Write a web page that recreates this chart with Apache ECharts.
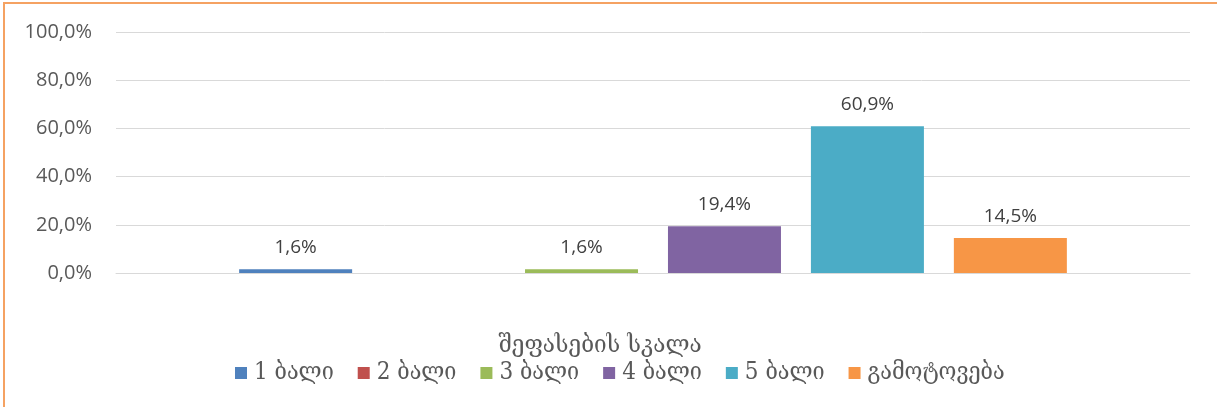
<!DOCTYPE html>
<html>
<head>
<meta charset="utf-8">
<script src="https://cdn.jsdelivr.net/npm/echarts@6/dist/echarts.min.js"></script>
<style>
  html, body { margin: 0; padding: 0; background: #fff; }
  #chart { position: absolute; left: 0; top: 0; width: 1217px; height: 407px; }
  #frame {
    position: absolute; left: 3px; top: 2px; width: 1214px; height: 403px;
    border-top: 2px solid #f5a262; border-left: 2px solid #f5a262;
    border-bottom: 2px solid #fbc895; pointer-events: none;
  }
</style>
</head>
<body>
<div id="chart"></div>
<div id="frame"></div>
<script>
// data
var categories = ['შეფასების სკალა'];
var seriesNames = ['1 ბალი', '2 ბალი', '3 ბალი', '4 ბალი', '5 ბალი', 'გამოტოვება'];
var seriesValues = [1.6, null, 1.6, 19.4, 60.9, 14.5];
var yTicks = [0, 20, 40, 60, 80, 100];

var colors = ['#4f81bd', '#c0504d', '#9bbb59', '#8064a2', '#4bacc6', '#f79646'];
var numFont = '"Open Sans", "Liberation Sans", sans-serif';
var geoFont = '"DejaVu Serif Condensed", "DejaVu Serif", "DejaVu Sans", serif';

function pct (v) {
  return v.toFixed(1).replace('.', ',') + '%';
}

var myChart = echarts.init(document.getElementById('chart'));

var series = seriesNames.map(function (name, i) {
  return {
    name: name,
    type: 'bar',
    barWidth: 113,
    barGap: '26.5%',
    itemStyle: { color: colors[i] },
    label: {
      show: seriesValues[i] !== null,
      position: 'top',
      distance: 12,
      color: '#404040',
      fontSize: 19,
      fontFamily: numFont,
      formatter: function (p) {
        return pct(p.value);
      }
    },
    data: [seriesValues[i] === null ? '-' : seriesValues[i]]
  };
});

myChart.setOption({
  animation: false,
  color: colors,
  title: {
    text: categories[0],
    left: 595,
    top: 328,
    textAlign: 'center',
    textStyle: {
      color: '#595959',
      fontSize: 25,
      fontWeight: 'normal',
      fontFamily: geoFont
    }
  },
  legend: {
    left: 230,
    top: 356,
    itemWidth: 12,
    itemHeight: 12,
    itemGap: 24,
    icon: 'rect',
    textStyle: {
      color: '#595959',
      fontSize: 24,
      fontFamily: geoFont,
      padding: [0, 0, 0, 2]
    },
    data: seriesNames
  },
  grid: {
    left: 116,
    right: 27,
    top: 32,
    bottom: 134
  },
  xAxis: {
    type: 'category',
    data: categories,
    axisLine: { lineStyle: { color: '#d9d9d9', width: 1 } },
    axisTick: { show: false },
    axisLabel: { show: false }
  },
  yAxis: {
    type: 'value',
    min: yTicks[0],
    max: yTicks[yTicks.length - 1],
    interval: yTicks[1] - yTicks[0],
    axisLine: { show: false },
    axisTick: { show: false },
    splitLine: { lineStyle: { color: '#d9d9d9', width: 1 } },
    axisLabel: {
      margin: 24,
      color: '#595959',
      fontSize: 20,
      fontFamily: numFont,
      formatter: function (v) {
        return pct(v);
      }
    }
  },
  series: series
});
</script>
</body>
</html>
